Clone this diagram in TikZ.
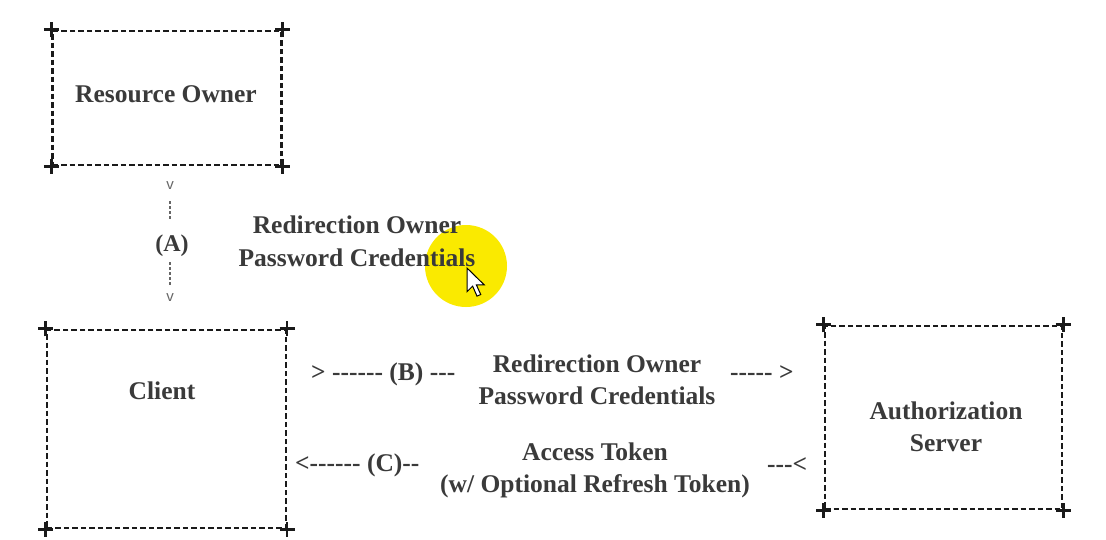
\documentclass[tikz,border=0pt]{standalone}
\usepackage{fontspec}
\newfontfamily\tnr{Liberation Serif}
\newfontfamily\arl{Liberation Sans}
\definecolor{txt}{HTML}{3A3A3A}
\definecolor{ln}{HTML}{1A1A1A}
\definecolor{hl}{HTML}{FAEA00}
\newcommand\crossat[1]{%
  \draw[crossln] ([xshift=-7.5pt]#1) -- ([xshift=7.5pt]#1);
  \draw[crossln] ([yshift=-7.5pt]#1) -- ([yshift=7.5pt]#1);}
\begin{document}
\begin{tikzpicture}[x=1pt,y=-1pt,
  box/.style={draw=ln, line width=2.3pt, dash pattern=on 5.5pt off 3pt, inner sep=0pt, rectangle},
  crossln/.style={draw=ln, line width=2.8pt, solid},
  lbl/.style={text=txt, font=\tnr\bfseries\fontsize{25.5pt}{32pt}\selectfont, inner sep=0pt, anchor=base},
  lblw/.style={lbl, anchor=base west},
  vmark/.style={text=black!60, font=\arl\fontsize{15pt}{18pt}\selectfont, inner sep=0pt, anchor=base},
  adash/.style={draw=black!60, line width=1.5pt, dash pattern=on 3pt off 2pt}]
\useasboundingbox (0,0) rectangle (1106,539);
\fill[white] (0,0) rectangle (1106,539);

% boxes
\node[box, minimum width=229pt, minimum height=134pt] (ro) at (167,98) {};
\node[box, minimum width=239pt, minimum height=198pt] (cl) at (166.4,429) {};
\node[box, minimum width=237pt, minimum height=183pt] (as) at (943.5,417.5) {};
\foreach \n in {ro,cl,as}
  \foreach \a in {north west,north east,south west,south east} {\crossat{\n.\a}}

% highlight circle
\fill[hl] (466,266) circle[radius=41pt];

% box texts
\node[lbl] (rot) at (166,102) {Resource Owner};
\node[lbl] (clt) at (162,399) {Client};
\node[lbl] (ast1) at (946,419) {Authorization};
\node[lbl] (ast2) at (946,451) {Server};

% (A)
\node[vmark] (vt) at (170,189) {v};
\node[lbl, font=\tnr\bfseries\fontsize{24pt}{30pt}\selectfont] (al) at (172,251) {(A)};
\node[vmark] (vb) at (170,301) {v};
\draw[adash, shorten <=12pt, shorten >=14pt] (vt.south) -- (vt.south |- al.north);
\draw[adash, shorten <=6pt, shorten >=6pt] (vb.north |- al.south) -- (vb.north);
\node[lbl] (ta1) at (357,233) {Redirection Owner};
\node[lbl] (ta2) at (357,266) {Password Credentials};

% (B)
\node[lblw] (bp) at (311,380) {> ------ (B) ---};
\node[lbl] (tb1) at (597,372) {Redirection Owner};
\node[lbl] (tb2) at (597,404) {Password Credentials};
\node[lblw] (bs) at (730,380) {----- >};

% (C)
\node[lblw] (cp) at (295,471) {<------ (C)--};
\node[lbl] (tc1) at (595,460) {Access Token};
\node[lbl] (tc2) at (595,492) {(w/ Optional Refresh Token)};
\node[lblw] (cs) at (767,472) {---<};

% cursor
\begin{scope}[shift={(467,268)}, scale=1.25]
\draw[fill=white, draw=black, line width=1pt, line join=miter]
  (0,0) -- ++(0,19) -- ++(4.5,-4.5) -- ++(3.5,8) -- ++(3,-1.3) -- ++(-3.5,-7.7) -- ++(6.3,0) -- cycle;
\end{scope}
\end{tikzpicture}
\end{document}
